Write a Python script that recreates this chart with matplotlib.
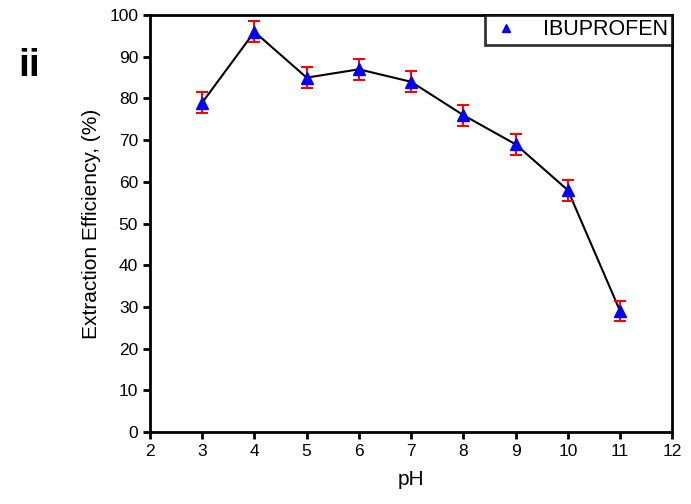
import matplotlib
matplotlib.use("Agg")
import matplotlib.pyplot as plt

plt.rcParams['font.family'] = ['Liberation Sans', 'DejaVu Sans']

ph = [3, 4, 5, 6, 7, 8, 9, 10, 11]
efficiency = [79, 96, 85, 87, 84, 76, 69, 58, 29]
errors = [2.5, 2.5, 2.5, 2.5, 2.5, 2.5, 2.5, 2.5, 2.5]
xticks = [2, 3, 4, 5, 6, 7, 8, 9, 10, 11, 12]
yticks = [0, 10, 20, 30, 40, 50, 60, 70, 80, 90, 100]

fig = plt.figure(figsize=(6.91, 5.04), dpi=100)
ax = fig.add_axes([0.217, 0.143, 0.756, 0.827])

ax.plot(ph, efficiency, color='black', lw=1.5, zorder=2)
ax.errorbar(ph, efficiency, yerr=errors, fmt='none', ecolor='red', elinewidth=1.5,
            capsize=4, capthick=1.5, zorder=3)
ax.plot(ph, efficiency, linestyle='none', marker='^', color='blue', markersize=9,
        label='IBUPROFEN', zorder=4)

ax.set_xlim(2, 12)
ax.set_ylim(0, 100)
ax.set_xticks(xticks)
ax.set_yticks(yticks)
ax.tick_params(direction='out', length=5, width=2, labelsize=12.5)
for s in ax.spines.values():
    s.set_linewidth(2)

ax.set_xlabel('pH', fontsize=15, labelpad=8)
ax.set_ylabel('Extraction Efficiency, (%)', fontsize=15, labelpad=6)

leg = ax.legend(loc='upper right', bbox_to_anchor=(1.0, 1.0), fontsize=15.5, frameon=True,
                fancybox=False, borderaxespad=0.0, handlelength=1.6, handletextpad=0.9,
                markerscale=0.65, borderpad=0.2)
leg.get_frame().set_edgecolor('black')
leg.get_frame().set_linewidth(2)

fig.text(0.027, 0.87, 'ii', fontsize=28, fontweight='bold', va='center', ha='left')

fig.savefig('out.png', dpi=100)
